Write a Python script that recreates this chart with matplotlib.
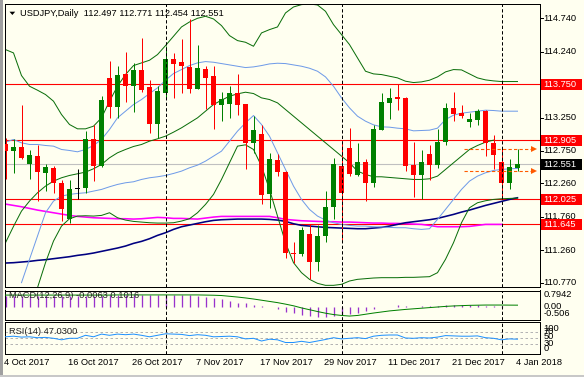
import numpy as np
import matplotlib
matplotlib.use("Agg")
import matplotlib.pyplot as plt
from matplotlib.patches import Rectangle, Polygon
from matplotlib.transforms import blended_transform_factory as blend

W, H = 584, 377
nan = np.nan

# daily candles, 4 Oct 2017 .. 4 Jan 2018
opens = [112.845, 112.74, 112.81, 112.555, 112.675, 112.42, 112.485, 112.27, 111.73, 112.18,
         112.19, 112.93, 112.52, 113.845, 113.41, 113.905, 113.72, 113.97, 113.71, 113.16,
         113.62, 114.13, 114.08, 114.01, 113.68, 113.985, 113.87, 113.445, 113.46, 113.62,
         113.455, 112.86, 113.0, 112.105, 112.61, 112.43, 111.22, 111.195, 111.505, 111.08,
         111.47, 111.905, 112.52, 112.795, 112.38, 112.58, 112.27, 113.07, 113.47, 113.555,
         113.545, 112.53, 112.38, 112.705, 112.53, 112.88, 113.395, 113.32, 113.19, 113.22,
         113.355, 112.87, 112.585, 112.27, 112.497]
highs = [112.945, 112.93, 113.445, 112.755, 112.83, 112.545, 112.52, 112.305, 112.305, 112.48,
         113.045, 113.145, 113.57, 114.095, 114.03, 114.23, 114.075, 114.445, 113.82, 113.72,
         114.32, 114.22, 114.43, 114.73, 114.345, 114.02, 114.02, 113.63, 113.72, 113.91,
         113.455, 113.27, 113.145, 112.72, 112.695, 112.445, 111.38, 111.61, 111.645, 111.63,
         112.145, 112.645, 112.88, 113.095, 112.87, 112.63, 113.145, 113.62, 113.695, 113.755,
         113.555, 112.88, 112.755, 112.84, 113.08, 113.47, 113.635, 113.445, 113.32, 113.38,
         113.37, 112.98, 112.79, 112.62, 112.771]
lows = [112.32, 112.41, 112.62, 112.32, 111.995, 112.145, 112.11, 111.695, 111.67, 112.03,
        112.12, 112.295, 112.51, 113.245, 113.245, 113.48, 113.33, 113.64, 113.02, 112.945,
        113.545, 113.545, 113.62, 113.62, 113.68, 113.38, 113.08, 113.195, 113.245, 113.295,
        112.47, 112.72, 111.945, 111.895, 112.37, 111.145, 111.07, 111.17, 110.83, 110.945,
        111.38, 111.73, 111.41, 112.37, 112.37, 111.995, 112.21, 113.06, 113.23, 113.37,
        112.445, 112.06, 112.03, 112.31, 112.495, 112.83, 113.195, 113.245, 113.11, 113.145,
        112.67, 112.47, 112.03, 112.17, 112.454]
closes = [112.745, 112.81, 112.645, 112.685, 112.435, 112.5, 112.26, 111.87, 112.18, 112.18,
          112.93, 112.52, 113.51, 113.41, 113.895, 113.73, 113.96, 113.66, 113.16, 113.65,
          114.13, 114.06, 114.03, 113.68, 113.995, 113.845, 113.445, 113.53, 113.62, 113.445,
          112.86, 113.055, 112.08, 112.62, 112.43, 111.21, 111.195, 111.56, 111.08, 111.47,
          111.91, 112.545, 112.11, 112.395, 112.58, 112.27, 113.08, 113.485, 113.545, 113.53,
          112.52, 112.38, 112.58, 112.53, 112.88, 113.395, 113.31, 113.27, 113.23, 113.355,
          112.86, 112.68, 112.27, 112.51, 112.551]

bb_upper = [114.27, 114.22, 113.88, 113.72, 113.66, 113.595, 113.495, 113.295, 113.145, 113.08,
            113.08, 113.12, 113.245, 113.495, 113.72, 113.895, 114.03, 114.07, 114.11, 114.195,
            114.33, 114.47, 114.61, 114.685, 114.74, 114.77, 114.73, 114.63, 114.48, 114.405,
            114.38, 114.32, 114.52, 114.57, 114.61, 114.82, 114.91, 114.945, 114.955, 114.94,
            114.845, 114.645, 114.495, 114.345, 114.145, 113.945, 113.905, 113.895, 113.87, 113.845,
            113.795, 113.775, 113.785, 113.81, 113.86, 113.935, 113.97, 113.965, 113.905, 113.845,
            113.815, 113.8, 113.79, 113.79, 113.79]
bb_mid = [112.88, 112.92, 112.87, 112.845, 112.845, 112.83, 112.82, 112.77, 112.755, 112.735,
          112.77, 112.83, 112.92, 113.07, 113.245, 113.345, 113.445, 113.52, 113.61, 113.695,
          113.81, 113.91, 113.97, 114.03, 114.07, 114.09, 114.08, 114.06, 114.04, 114.02,
          114.0, 114.01, 114.03, 114.055, 114.065, 114.06, 114.04, 114.02, 113.99, 113.945,
          113.86, 113.72, 113.545, 113.395, 113.27, 113.195, 113.14, 113.11, 113.105, 113.09,
          113.08, 113.05, 113.055, 113.06, 113.09, 113.22, 113.285, 113.315, 113.33, 113.345,
          113.36, 113.355, 113.345, 113.345, 113.345]
bb_lower = [111.37, 111.615, 111.845, 111.995, 112.12, 112.22, 112.295, 112.345, 112.38, 112.405,
            112.43, 112.48, 112.545, 112.645, 112.72, 112.77, 112.815, 112.845, 112.895, 112.93,
            112.97, 113.03, 113.095, 113.17, 113.245, 113.345, 113.445, 113.51, 113.57, 113.605,
            113.63, 113.61, 113.545, 113.52, 113.47, 113.37, 113.27, 113.17, 113.07, 112.97,
            112.87, 112.77, 112.67, 112.57, 112.445, 112.395, 112.36, 112.36, 112.35, 112.34,
            112.33, 112.32, 112.32, 112.33, 112.37, 112.47, 112.57, 112.67, 112.77, 112.83,
            112.88, 112.91]
ma_light = [nan, nan, 110.77, 111.12, 111.47, 111.82, 111.995, 112.07, 112.095, 112.11,
            112.12, 112.145, 112.17, 112.21, 112.245, 112.27, 112.285, 112.32, 112.345, 112.36,
            112.38, 112.41, 112.445, 112.495, 112.535, 112.595, 112.67, 112.745, 112.895, 113.045,
            113.17, 113.28, 113.145, 112.97, 112.72, 112.47, 112.22, 112.02, 111.87, 111.77,
            111.71, 111.67, 111.645, 111.63, 111.62, 111.62, 111.61, 111.605, 111.6, 111.595,
            111.595, 111.58, 111.57, 111.58, 111.72, 111.87, 112.02, 112.17, 112.295, 112.37,
            112.42, 112.455, 112.47, 112.48, 112.485]
band_green = [nan, nan, nan, nan, 110.695, 111.07, 111.395, 111.62, 111.73, 111.77,
              111.775, 111.77, 111.78, 111.82, 111.745, 111.71, 111.69, 111.68, 111.67, 111.665,
              111.665, 111.67, 111.695, 111.73, 111.82, 111.945, 112.095, 112.32, 112.57, 112.82,
              112.84, 112.77, 112.52, 112.17, 111.77, 111.37, 111.07, 110.92, 110.82, 110.76,
              110.73, 110.73, 110.745, 110.795, 110.82, 110.83, 110.84, 110.845, 110.845, 110.845,
              110.85, 110.85, 110.855, 110.86, 110.92, 111.12, 111.37, 111.67, 111.895, 111.97,
              112.0, 112.02, 112.03, 112.035, 112.04]
ma_navy = [111.065, 111.07, 111.08, 111.09, 111.105, 111.115, 111.13, 111.145, 111.16, 111.18,
           111.195, 111.215, 111.24, 111.265, 111.29, 111.32, 111.36, 111.39, 111.43, 111.48,
           111.52, 111.57, 111.61, 111.635, 111.66, 111.685, 111.705, 111.715, 111.72, 111.725,
           111.725, 111.725, 111.725, 111.72, 111.71, 111.69, 111.655, 111.63, 111.62, 111.61,
           111.6, 111.595, 111.59, 111.585, 111.58, 111.58, 111.59, 111.6, 111.62, 111.645,
           111.67, 111.685, 111.7, 111.715, 111.735, 111.765, 111.795, 111.83, 111.86, 111.895,
           111.93, 111.96, 111.99, 112.02, 112.045]
ma_magenta = [111.95, 111.93, 111.91, 111.885, 111.86, 111.84, 111.82, 111.8, 111.78, 111.765,
              111.755, 111.745, 111.74, 111.735, 111.73, 111.73, 111.725, 111.73, 111.74, 111.75,
              111.745, 111.735, 111.735, 111.73, 111.725, 111.74, 111.755, 111.765, 111.765, 111.765,
              111.765, 111.765, 111.765, 111.765, 111.745, 111.72, 111.71, 111.7, 111.695, 111.69,
              111.685, 111.685, 111.68, 111.68, 111.675, 111.67, 111.665, 111.665, 111.66, 111.66,
              111.655, 111.65, 111.645, 111.63, 111.61, 111.61, 111.61, 111.61, 111.615, 111.63,
              111.645, 111.645, 111.645]

macd_hist = [0.73, 0.73, 0.73, 0.73, 0.73, 0.73, 0.72, 0.71, 0.71, 0.71,
             0.72, 0.72, 0.74, 0.75, 0.76, 0.76, 0.77, 0.77, 0.77, 0.77,
             0.78, 0.78, 0.77, 0.76, 0.73, 0.67, 0.56, 0.49, 0.4, 0.27,
             0.22, 0.11, 0.02, 0.0, -0.13, -0.33, -0.44, -0.56, -0.62, -0.67,
             -0.67, -0.62, -0.58, -0.49, -0.4, -0.27, -0.18, -0.04, 0.0, 0.13,
             0.07, 0.01, 0.02, 0.04, 0.07, 0.1, 0.13, 0.13, 0.11, 0.1,
             0.07, 0.05, 0.03, 0.01, -0.0063]
macd_signal = [0.77, 0.77, 0.77, 0.77, 0.77, 0.77, 0.77, 0.77, 0.77, 0.77,
               0.77, 0.77, 0.77, 0.77, 0.78, 0.78, 0.78, 0.78, 0.78, 0.78,
               0.78, 0.78, 0.78, 0.78, 0.78, 0.77, 0.76, 0.74, 0.69, 0.64,
               0.58, 0.51, 0.43, 0.35, 0.27, 0.17, 0.06, -0.08, -0.2, -0.32,
               -0.43, -0.52, -0.58, -0.62, -0.58, -0.5, -0.42, -0.35, -0.28, -0.23,
               -0.18, -0.14, -0.1, -0.06, -0.02, 0.02, 0.05, 0.07, 0.09, 0.1,
               0.11, 0.11, 0.11, 0.105, 0.1016]
rsi = [55, 57, 54, 55, 52, 53, 50, 45, 50, 50,
       60, 55, 64, 60, 64, 62, 64, 60, 55, 60,
       65, 64, 63, 59, 62, 60, 55, 56, 57, 55,
       48, 50, 41, 47, 45, 36, 36, 40, 36, 41,
       46, 52, 48, 50, 52, 49, 57, 60, 61, 61,
       51, 50, 52, 51, 54, 59, 58, 57, 57, 58,
       52, 50, 45, 48, 47.03]

levels = [113.750, 112.905, 112.025, 111.645]
last_price = 112.551
day_high, day_low = 112.771, 112.454
price_ticks = [114.740, 114.240, 113.750, 113.250, 112.750, 112.260, 111.760, 111.260, 110.770]
macd_ticks = ["0.7942", "0.00", "-0.506"]
rsi_ticks = ["100", "70", "50", "30", "0"]
date_bars = [0, 8, 16, 24, 32, 40, 48, 56, 64]
date_labels = ["4 Oct 2017", "16 Oct 2017", "26 Oct 2017", "7 Nov 2017", "17 Nov 2017",
               "29 Nov 2017", "11 Dec 2017", "21 Dec 2017", "4 Jan 2018"]
month_breaks = [20, 42, 62]

# ---- style ----
plt.rcParams["font.family"] = ["Liberation Sans", "DejaVu Sans"]
FS = 6.7
BG = "#fffff0"
PX = 0.72  # one pixel in points
GREEN = "#008000"
BAND = "#0a6e0a"
LBLUE = "#6f9be8"


def fx(x):
    return x / W


def fy(y):
    return 1 - y / H


fig = plt.figure(figsize=(W / 100, H / 100), dpi=100, facecolor=BG)

left, right = 4.5, 540
ax = fig.add_axes([fx(left), fy(287), fx(right - left), (287 - 3.5) / H])
ax_macd = fig.add_axes([fx(left), fy(319.5), fx(right - left), (319.5 - 290.5) / H])
ax_rsi = fig.add_axes([fx(left), fy(354), fx(right - left), (354 - 322) / H])

xmin, xmax = (left - 5.5) / 8, (right - 5.5) / 8
for a in (ax, ax_macd, ax_rsi):
    a.set_facecolor(BG)
    a.set_xlim(xmin, xmax)
    a.set_xticks([])
    a.set_yticks([])
    for s in a.spines.values():
        s.set_color("black")
        s.set_linewidth(PX)
    for b in month_breaks:
        a.axvline(b, color="black", lw=PX, ls=(0, (3.3, 2.2)), zorder=6)

ax.set_ylim(110.705, 114.962)
ax_macd.set_ylim(-0.848, 1.073)
ax_rsi.set_ylim(-2.3, 104.3)

x = np.arange(len(opens))
o, h, l, c = map(np.array, (opens, highs, lows, closes))

# indicator lines
ax.plot(x[:len(ma_magenta)], ma_magenta, color="#ff00ff", lw=1.6 * PX, zorder=2)
ax.plot(x, ma_navy, color="#000080", lw=1.6 * PX, zorder=2)
ax.plot(x, ma_light, color=LBLUE, lw=PX, zorder=2)
ax.plot(x, band_green, color=BAND, lw=PX, zorder=2)
ax.plot(x, bb_upper, color=BAND, lw=PX, zorder=2)
ax.plot(x[:len(bb_lower)], bb_lower, color=BAND, lw=PX, zorder=2)
ax.plot(x, bb_mid, color=LBLUE, lw=PX, zorder=2)

# horizontal levels
for lv in levels:
    ax.axhline(lv, color="#ff0000", lw=1.1 * PX, zorder=1)
ax.axhline(last_price, color="#c0c0c0", lw=1.1 * PX, zorder=1)

# candles
cols = np.where(c > o, GREEN, np.where(c < o, "#ff0000", "black"))
ax.vlines(x, l, h, colors=cols, lw=PX, zorder=4)
body_lo = np.minimum(o, c)
body_h = np.maximum(np.abs(c - o), 0.012)
ax.bar(x, body_h, bottom=body_lo, width=0.64, color=cols, linewidth=0, zorder=5)

# high / low markers of the current bar
for v in (day_high, day_low):
    ax.plot([57.3, 65.9], [v, v], color="#ff5a00", lw=1.1 * PX, ls=(0, (3, 2)), zorder=7)
    ax.plot([66.1], [v], marker=">", color="#ff5a00", ms=3.8, mew=0, zorder=7, clip_on=False)

# right price scale
tr = blend(fig.transFigure, ax.transData)
for t in price_ticks:
    ax.plot([fx(540), fx(543)], [t, t], color="black", lw=PX, transform=tr, clip_on=False)
    ax.text(fx(543.5), t, f"{t:.3f}", transform=tr, fontsize=FS, va="center", ha="left", clip_on=False)
box_h = 0.083
for lv, col in [(v, "#ff0000") for v in levels] + [(last_price, "black")]:
    ax.add_patch(Rectangle((fx(540.5), lv - box_h), fx(41.5), 2 * box_h, transform=tr,
                           facecolor=col, edgecolor="none", clip_on=False, zorder=10))
    ax.text(fx(543.5), lv, f"{lv:.3f}", transform=tr, fontsize=FS, color="white",
            va="center", ha="left", clip_on=False, zorder=11)

# MACD panel
ax_macd.vlines(x, 0, macd_hist, colors="#9932cc", lw=1.3 * PX, zorder=2)
ax_macd.plot(x, macd_signal, color=GREEN, lw=PX, zorder=3)
ax_macd.text((9 - left) / (right - left), 0.83, "MACD(12,26,9) -0.0063 0.1016",
             transform=ax_macd.transAxes, fontsize=FS, va="center", ha="left", color="#222222")
for y_px, s in zip([294.7, 306.7, 313.3], macd_ticks):
    fig.text(fx(543.5), fy(y_px), s, fontsize=FS, va="center", ha="left")

# RSI panel
for lv in (70, 50, 30):
    ax_rsi.axhline(lv, color="#b4b4b4", lw=PX, ls=(0, (2.5, 2.5)), zorder=1)
ax_rsi.plot(x, rsi, color="#1e90ff", lw=PX, zorder=3)
ax_rsi.text((9 - left) / (right - left), 0.69, "RSI(14) 47.0300", transform=ax_rsi.transAxes,
            fontsize=FS, va="center", ha="left", color="#222222")
for y_px, s in zip([328.5, 332, 336.7, 343, 348.3], rsi_ticks):
    fig.text(fx(543.5), fy(y_px), s, fontsize=FS, va="center", ha="left")

# dates
for b, s in zip(date_bars, date_labels):
    fig.text(fx(5.5 + 8 * b - 1), fy(362.7), s, fontsize=FS, va="center", ha="left")

# title
fig.patches.append(Polygon([(fx(9.5), fy(11.7)), (fx(15.2), fy(11.7)), (fx(12.35), fy(15))],
                           closed=True, facecolor="black", edgecolor="none", transform=fig.transFigure))
fig.text(fx(20.5), fy(13), "USDJPY,Daily  112.497 112.771 112.454 112.551", fontsize=FS,
         va="center", ha="left")

# window frame
fig.patches.append(Rectangle((0, 0), fx(2.5), 1, facecolor="#a0a0a0", edgecolor="none",
                             transform=fig.transFigure))
fig.patches.append(Rectangle((0, 0), 1, 2 / H, facecolor="#c8c8c8", edgecolor="none",
                             transform=fig.transFigure))

fig.savefig("out.png", dpi=100, facecolor=BG)
